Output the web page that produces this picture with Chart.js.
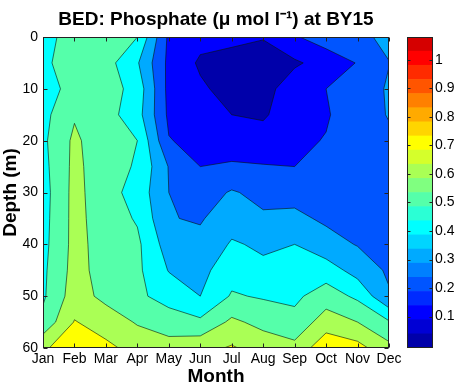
<!DOCTYPE html>
<html><head><meta charset="utf-8">
<script src="https://cdn.jsdelivr.net/npm/chart.js@4.4.0/dist/chart.umd.min.js"></script>
<style>
html,body{margin:0;padding:0;background:#fff;overflow:hidden}
#wrap{position:relative;width:470px;height:391px}
canvas{position:absolute;left:0;top:0}
</style></head>
<body><div id="wrap"><canvas id="main" width="470" height="391"></canvas><canvas id="cbar" width="470" height="391"></canvas></div>
<script>
// ---- data (phosphate, umol/l) ----
const months = ['Jan','Feb','Mar','Apr','May','Jun','Jul','Aug','Sep','Oct','Nov','Dec'];
const depths = [0,5,10,15,20,25,30,35,40,45,50,55,60];
const depthTicks = [0,10,20,30,40,50,60];
// values per month, from 0 m down to 60 m
const janP = [0.46,0.48,0.45,0.47,0.48,0.47,0.46,0.465,0.47,0.48,0.485,0.53,0.68];
const febP = [0.55,0.55,0.54,0.59,0.62,0.625,0.63,0.63,0.63,0.635,0.65,0.705,0.78];
const marP = [0.55,0.54,0.55,0.54,0.53,0.54,0.54,0.55,0.56,0.56,0.57,0.66,0.72];
const aprP = [0.50,0.41,0.46,0.44,0.50,0.49,0.46,0.49,0.52,0.52,0.52,0.59,0.67];
const mayP = [0.18,0.175,0.17,0.18,0.205,0.295,0.30,0.305,0.35,0.395,0.46,0.55,0.64];
const junP = [0.13,0.086,0.115,0.14,0.17,0.20,0.25,0.29,0.33,0.37,0.40,0.52,0.67];
const julP = [0.12,0.07,0.065,0.10,0.16,0.21,0.31,0.36,0.41,0.46,0.51,0.62,0.71];
const augP = [0.105,0.06,0.06,0.085,0.15,0.205,0.27,0.315,0.385,0.42,0.49,0.57,0.66];
const sepP = [0.19,0.085,0.16,0.17,0.18,0.20,0.27,0.32,0.40,0.44,0.48,0.53,0.63];
const octP = [0.25,0.14,0.20,0.19,0.205,0.23,0.26,0.285,0.335,0.45,0.55,0.65,0.77];
const novP = [0.28,0.205,0.25,0.26,0.27,0.27,0.28,0.285,0.295,0.36,0.48,0.60,0.735];
const decP = [0.32,0.298,0.31,0.305,0.285,0.27,0.265,0.26,0.27,0.285,0.31,0.51,0.63];
const contourLevels = [0,0.1,0.2,0.3,0.4,0.5,0.6,0.7,0.8,0.9,1.0];
const colorbarTicks = [0.1,0.2,0.3,0.4,0.5,0.6,0.7,0.8,0.9,1];
const cMin = -0.01, cMax = 1.08, nColors = 22;

const grid = [janP,febP,marP,aprP,mayP,junP,julP,augP,sepP,octP,novP,decP];

// MATLAB-style jet colormap
function jet(m){
  const n = Math.ceil(m/4), u = [];
  for(let i=1;i<=n;i++) u.push(i/n);
  for(let i=1;i<n;i++) u.push(1);
  for(let i=n;i>=1;i--) u.push(i/n);
  const g0 = Math.ceil(n/2) - (m%4===1?1:0);
  const J = Array.from({length:m},()=>[0,0,0]);
  for(let k=0;k<u.length;k++){
    const g = g0+k+1, r = g+n, b = g-n;
    if(r>=1&&r<=m) J[r-1][0]=u[k];
    if(g>=1&&g<=m) J[g-1][1]=u[k];
    if(b>=1&&b<=m) J[b-1][2]=u[k];
  }
  return J.map(c=>`rgb(${Math.round(c[0]*255)},${Math.round(c[1]*255)},${Math.round(c[2]*255)})`);
}
const cmap = jet(nColors);
function colorFor(v){
  let i = Math.floor((v-cMin)/(cMax-cMin)*nColors + 1e-9);
  return cmap[Math.max(0,Math.min(nColors-1,i))];
}

const FONT = "'Liberation Sans', Arial, sans-serif";
Chart.defaults.font.family = FONT;
Chart.defaults.color = '#000';

function clipPoly(poly, L){
  const out = [];
  for(let i=0;i<poly.length;i++){
    const a = poly[i], b = poly[(i+1)%poly.length];
    const ina = a.v >= L, inb = b.v >= L;
    if(ina) out.push(a);
    if(ina !== inb){
      const t = (L-a.v)/(b.v-a.v);
      out.push({x:a.x+t*(b.x-a.x), y:a.y+t*(b.y-a.y), v:L, on:true});
    }
  }
  return out;
}

const contourPlugin = {
  id:'contourf',
  beforeDatasetsDraw(chart){
    const {ctx, chartArea:a, scales:{x,y}} = chart;
    ctx.save();
    ctx.beginPath(); ctx.rect(a.left,a.top,a.right-a.left,a.bottom-a.top); ctx.clip();
    const cells = [];
    const P = (i,j)=>({x:x.getPixelForValue(i+1), y:y.getPixelForValue(depths[j]), v:grid[i][j]});
    for(let i=0;i<grid.length-1;i++) for(let j=0;j<depths.length-1;j++)
      cells.push([P(i,j),P(i+1,j),P(i+1,j+1),P(i,j+1)]);
    ctx.fillStyle = colorFor(contourLevels[0]);
    ctx.fillRect(a.left,a.top,a.right-a.left,a.bottom-a.top);
    const clipped = {};
    for(const L of contourLevels.slice(1)){
      const polys = cells.map(c=>clipPoly(c,L)).filter(p=>p.length>=3);
      clipped[L] = polys;
      if(!polys.length) continue;
      ctx.beginPath();
      for(const p of polys){ ctx.moveTo(p[0].x,p[0].y); for(let k=1;k<p.length;k++) ctx.lineTo(p[k].x,p[k].y); ctx.closePath(); }
      ctx.fillStyle = colorFor(L); ctx.fill();
    }
    ctx.beginPath();
    for(const L of contourLevels.slice(1)){
      for(const p of clipped[L]){
        for(let k=0;k<p.length;k++){
          const s = p[k], e = p[(k+1)%p.length];
          if(s.on && e.on){ ctx.moveTo(s.x,s.y); ctx.lineTo(e.x,e.y); }
        }
      }
    }
    ctx.strokeStyle = 'rgba(10,20,10,0.75)'; ctx.lineWidth = 0.8; ctx.stroke();
    ctx.restore();
  },
  afterDatasetsDraw(chart){
    const {ctx, chartArea:a, scales:{x,y}} = chart;
    ctx.save();
    ctx.strokeStyle = '#222'; ctx.lineWidth = 1;
    const L = Math.round(a.left)+0.5, R = Math.round(a.right)-0.5, T = Math.round(a.top)+0.5, B = Math.round(a.bottom)-0.5;
    ctx.strokeRect(L,T,R-L,B-T);
    ctx.beginPath();
    months.forEach((m,i)=>{ const px = Math.round(x.getPixelForValue(i+1))+0.5; ctx.moveTo(px,B); ctx.lineTo(px,B-4); ctx.moveTo(px,T); ctx.lineTo(px,T+4); });
    depthTicks.forEach(d=>{ const py = Math.round(y.getPixelForValue(d))+0.5; ctx.moveTo(L,py); ctx.lineTo(L+4,py); ctx.moveTo(R,py); ctx.lineTo(R-4,py); });
    ctx.stroke();
    ctx.restore();
  }
};

const pts = [];
grid.forEach((col,i)=>col.forEach((v,j)=>pts.push({x:i+1,y:depths[j],v})));

new Chart(document.getElementById('main'),{
  type:'scatter',
  data:{datasets:[{data:pts, pointRadius:0, showLine:false}]},
  plugins:[contourPlugin],
  options:{
    responsive:false, animation:false, events:[],
    layout:{padding:{left:0,right:81,top:0,bottom:0}},
    plugins:{
      legend:{display:false}, tooltip:{enabled:false},
      title:{display:true, fullSize:false, text:'BED: Phosphate (\u03bc mol l\u207b\u00b9) at BY15',
        font:{family:FONT,size:19,weight:'bold'}, color:'#000', padding:{top:8,bottom:6.2}}
    },
    scales:{
      x:{type:'linear', min:1, max:12,
        afterBuildTicks:s=>{ s.ticks = months.map((m,i)=>({value:i+1})); },
        ticks:{callback:v=>months[Math.round(v)-1], font:{size:14}, color:'#000', padding:3, maxRotation:0, autoSkip:false},
        grid:{display:false, drawTicks:false}, border:{display:false},
        title:{display:true, text:'Month', font:{size:19,weight:'bold'}, color:'#000', padding:{top:0,bottom:2.6}},
        afterFit:s=>{ s.height=43; s.paddingLeft=0; s.paddingRight=0; }
      },
      y:{type:'linear', reverse:true, min:0, max:60,
        afterBuildTicks:s=>{ s.ticks = depthTicks.map(v=>({value:v})); },
        ticks:{font:{size:14}, color:'#000', padding:5},
        grid:{display:false, drawTicks:false}, border:{display:false},
        title:{display:true, text:'Depth (m)', font:{size:19,weight:'bold'}, color:'#000', padding:{top:-1,bottom:0}},
        afterFit:s=>{ s.width=43; s.paddingTop=0; s.paddingBottom=0; }
      }
    }
  }
});

// ---- colour bar ----
const bandDatasets = cmap.map((c,k)=>{
  const w = (cMax-cMin)/nColors;
  return {data:[[cMin+k*w, cMin+(k+1)*w]], backgroundColor:c, borderWidth:0, barPercentage:1, categoryPercentage:1, grouped:false};
});
const cbFrame = {
  id:'cbFrame',
  afterDatasetsDraw(chart){
    const {ctx, chartArea:a, scales:{y}} = chart;
    ctx.save();
    ctx.strokeStyle='#222'; ctx.lineWidth=1;
    const L = Math.round(a.left)+0.5, R = Math.round(a.right)-0.5, T = Math.round(a.top)+0.5, B = Math.round(a.bottom)-0.5;
    ctx.strokeRect(L,T,R-L,B-T);
    ctx.beginPath();
    colorbarTicks.forEach(v=>{ const py = Math.round(y.getPixelForValue(v))+0.5; ctx.moveTo(L,py); ctx.lineTo(L+3,py); ctx.moveTo(R,py); ctx.lineTo(R-3,py); });
    ctx.stroke();
    ctx.restore();
  }
};
new Chart(document.getElementById('cbar'),{
  type:'bar',
  data:{labels:['c'], datasets:bandDatasets},
  plugins:[cbFrame],
  options:{
    responsive:false, animation:false, events:[],
    layout:{padding:{left:407,right:0,top:37,bottom:43}},
    plugins:{legend:{display:false}, tooltip:{enabled:false}},
    scales:{
      x:{display:false},
      y:{position:'right', min:cMin, max:cMax,
        afterBuildTicks:s=>{ s.ticks = colorbarTicks.map(v=>({value:v})); },
        ticks:{callback:v=>String(+v.toFixed(1)), font:{size:14}, color:'#000', padding:2},
        grid:{display:false, drawTicks:false}, border:{display:false},
        afterFit:s=>{ s.width=37; s.paddingTop=0; s.paddingBottom=0; }
      }
    }
  }
});
</script>
</body></html>
